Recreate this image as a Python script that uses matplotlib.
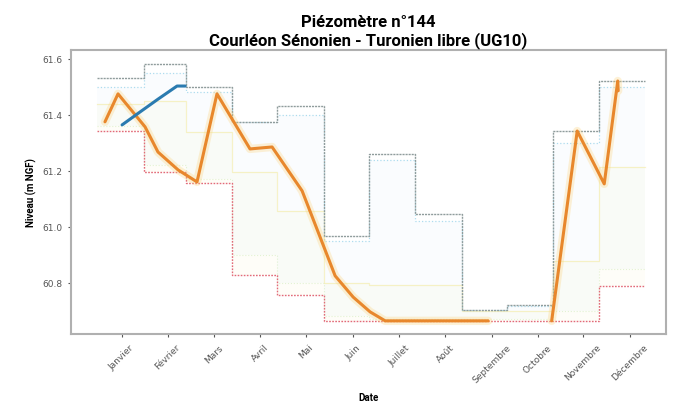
import numpy as np
import matplotlib
matplotlib.use("Agg")
import matplotlib.pyplot as plt

# ---- data ----
month_starts = [0, 31, 59, 90, 120, 151, 181, 212, 243, 273, 304, 334, 365]
month_labels = ["Janvier", "Février", "Mars", "Avril", "Mai", "Juin", "Juillet",
                "Août", "Septembre", "Octobre", "Novembre", "Décembre"]
tick_days = [16.5, 47.1, 78.0, 108.6, 139.2, 170.3, 201.2, 231.8, 263.0, 293.6, 323.8, 355.1]

q_max = [61.532, 61.582, 61.500, 61.376, 61.432, 60.967, 61.260, 61.045, 60.702, 60.720, 61.342, 61.521]
q_90 = [61.500, 61.550, 61.480, 61.376, 61.400, 60.950, 61.240, 61.020, 60.702, 60.715, 61.300, 61.500]
q_med = [61.440, 61.450, 61.340, 61.196, 61.057, 60.800, 60.790, 60.790, 60.700, 60.700, 60.877, 61.214]
q_10 = [61.360, 61.220, 61.170, 60.900, 60.800, 60.680, 60.670, 60.670, 60.670, 60.670, 60.700, 60.850]
q_min = [61.342, 61.196, 61.156, 60.827, 60.757, 60.663, 60.663, 60.663, 60.663, 60.663, 60.663, 60.788]

cur_days = [5.3, 14.0, 32.0, 40.6, 54.0, 66.6, 79.9, 101.9, 116.6, 136.6, 158.6, 170.6,
            181.9, 191.9, 220.0, 260.5, np.nan, 302.8, 319.8, 337.8, 346.8, 347.1]
cur_vals = [61.375, 61.475, 61.357, 61.267, 61.203, 61.160, 61.475, 61.278, 61.285, 61.128,
            60.824, 60.748, 60.695, 60.663, 60.663, 60.663, np.nan, 60.663, 61.342, 61.153,
            61.521, 61.486]

prev_days = [16.7, 28.6, 40.6, 53.3, 58.7]
prev_vals = [61.364, 61.410, 61.456, 61.503, 61.503]

# ---- figure ----
fig = plt.figure(figsize=(6.79, 4.02), dpi=100)
ax = fig.add_axes([0.1046, 0.1667, 0.8764, 0.7065])

def stepvals(v):
    return list(v) + [v[-1]]

x_edges = month_starts
ax.fill_between(x_edges, stepvals(q_10), stepvals(q_90), step="post",
                color="#d8eef8", alpha=0.12, linewidth=0)
ax.fill_between(x_edges, stepvals(q_min), stepvals(q_med), step="post",
                color="#f7f0b0", alpha=0.08, linewidth=0)

ax.step(x_edges, stepvals(q_10), where="post", color="#c8e8b0", lw=0.8, ls=":", alpha=0.5)
ax.step(x_edges, stepvals(q_med), where="post", color="#f2e68a", lw=0.9, ls="-", alpha=0.45)
ax.step(x_edges, stepvals(q_90), where="post", color="#7cc8e4", lw=0.9, ls=":", alpha=0.6)
ax.step(x_edges, stepvals(q_max), where="post", color="#8f9c9c", lw=1.0, ls=(0, (1.5, 0.7)))
ax.step(x_edges, stepvals(q_min), where="post", color="#e26a78", lw=1.0, ls=(0, (1.2, 1.0)))

ax.plot(cur_days, cur_vals, color="#fad27a", lw=6, alpha=0.3, solid_capstyle="round")
ax.plot(cur_days, cur_vals, color="#e8872c", lw=2.2, solid_capstyle="round")
ax.plot(prev_days, prev_vals, color="#2b7bb0", lw=2.2, solid_capstyle="round")

ax.set_xlim(-17.3, 379)
ax.set_ylim(60.616, 61.632)
ax.set_yticks([60.8, 61.0, 61.2, 61.4, 61.6])
ax.set_yticklabels(["60.8", "61.0", "61.2", "61.4", "61.6"])
ax.set_xticks(tick_days)
ax.set_xticklabels(month_labels, rotation=45)

ax.tick_params(axis="both", labelsize=6.5, colors="#555555", length=2.5, width=0.8)
for s in ax.spines.values():
    s.set_color("#b0b0b0")
    s.set_linewidth(1.5)

ax.set_xlabel("Date", fontsize=7, fontweight="bold", family="Roboto", labelpad=6)
ax.set_ylabel("Niveau (m NGF)", fontsize=7, fontweight="bold", family="Roboto")
ax.set_title("Piézomètre n°144\nCourléon Sénonien - Turonien libre (UG10)",
             fontsize=12, fontweight="bold", family="Roboto", linespacing=1.2, pad=4)

fig.savefig("out.png", dpi=100)
